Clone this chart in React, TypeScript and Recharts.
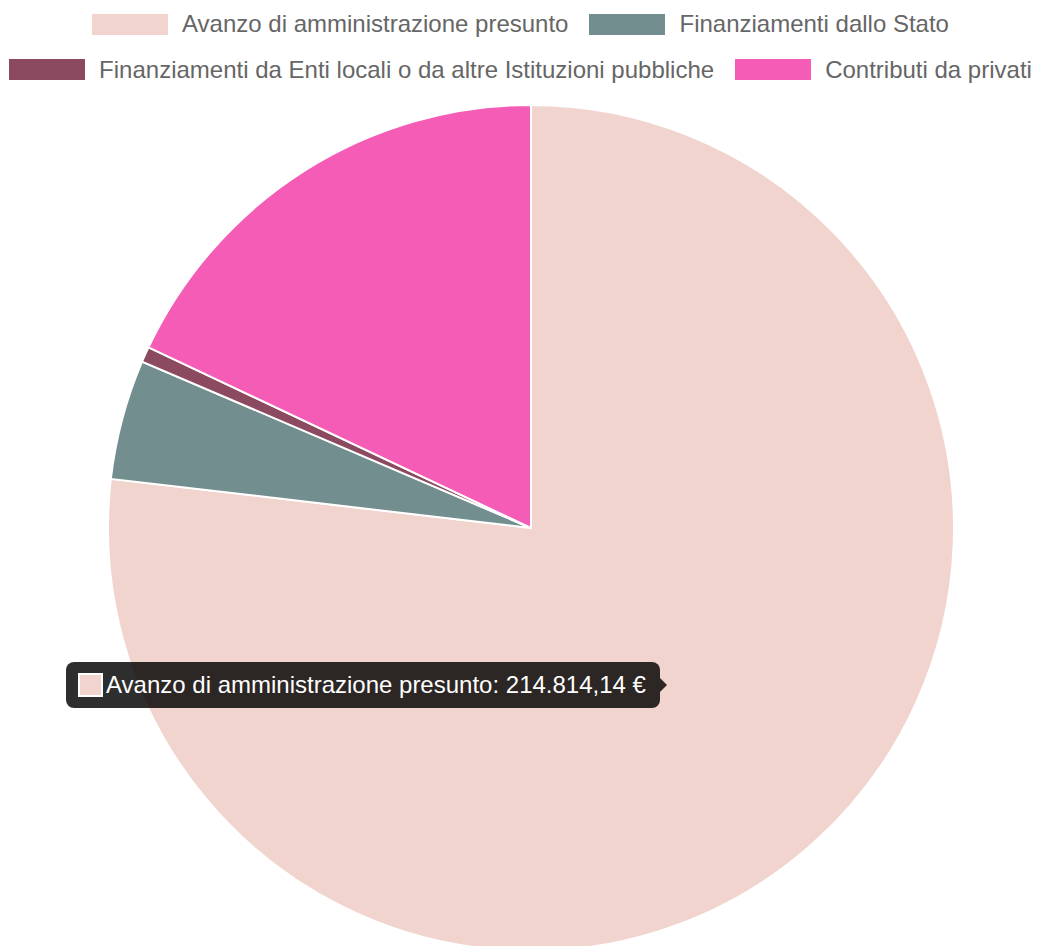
import React from "react";
import { PieChart, Pie, Cell, Legend, Tooltip } from "recharts";

const categories = [
  "Avanzo di amministrazione presunto",
  "Finanziamenti dallo Stato",
  "Finanziamenti da Enti locali o da altre Istituzioni pubbliche",
  "Contributi da privati",
];
const values = [214814.14, 12800, 1650, 50250];
const colors = ["#f1d4cd", "#738e8e", "#8c4a60", "#f45cb6"];

const data = categories.map((name, i) => ({ name, value: values[i] }));

const FONT = "'Liberation Sans', Arial, sans-serif";

const fmt = (v: number) =>
  v.toLocaleString("it-IT", { minimumFractionDigits: 2, maximumFractionDigits: 2 }) + " €";

const LegendItem = ({ i }: { i: number }) => (
  <div style={{ display: "flex", alignItems: "center", margin: "0 10px" }}>
    <div style={{ width: 78, height: 23, background: colors[i], border: "1px solid #fff", boxSizing: "border-box" }} />
    <span style={{ marginLeft: 13, color: "#666", fontSize: 24, fontFamily: FONT, whiteSpace: "nowrap" }}>
      {categories[i]}
    </span>
  </div>
);

const renderLegend = () => (
  <div style={{ width: 1040 }}>
    <div style={{ display: "flex", justifyContent: "center", height: 46, marginTop: 1, alignItems: "center" }}>
      <LegendItem i={0} />
      <LegendItem i={1} />
    </div>
    <div style={{ display: "flex", justifyContent: "center", height: 45, alignItems: "center" }}>
      <LegendItem i={2} />
      <LegendItem i={3} />
    </div>
  </div>
);

const renderTooltip = (props: any) => {
  const { active, payload } = props;
  if (!active || !payload || !payload.length) return null;
  const p = payload[0];
  const idx = categories.indexOf(p.name);
  return (
    <div style={{ position: "relative" }}>
      <div
        style={{
          background: "rgba(0,0,0,0.82)",
          borderRadius: 8,
          padding: "0 14px 0 12px",
          height: 46,
          display: "flex",
          alignItems: "center",
          fontFamily: FONT,
          fontSize: 24,
          color: "#fff",
          whiteSpace: "nowrap",
        }}
      >
        <div
          style={{
            width: 25,
            height: 24,
            background: colors[idx],
            border: "2px solid #fff",
            boxSizing: "border-box",
            marginRight: 3,
          }}
        />
        {p.name}: {fmt(p.value)}
      </div>
      <div
        style={{
          position: "absolute",
          right: -7,
          top: 16,
          width: 0,
          height: 0,
          borderTop: "7px solid transparent",
          borderBottom: "7px solid transparent",
          borderLeft: "7px solid rgba(0,0,0,0.82)",
        }}
      />
    </div>
  );
};

export default function App() {
  return (
    <div style={{ position: "absolute", left: 0, top: 0, width: 1040, height: 946, background: "#fff" }}>
      <PieChart width={1040} height={946} margin={{ top: 0, right: 0, bottom: 0, left: 0 }}>
        <Pie
          data={data}
          dataKey="value"
          nameKey="name"
          cx={531}
          cy={528}
          outerRadius={423}
          startAngle={90}
          endAngle={-270}
          stroke="#ffffff"
          strokeWidth={2}
          isAnimationActive={false}
        >
          {data.map((d, i) => (
            <Cell key={d.name} fill={colors[i]} />
          ))}
        </Pie>
        <Legend
          verticalAlign="middle"
          align="center"
          layout="horizontal"
          content={renderLegend}
          wrapperStyle={{ top: 0, left: 0, width: 1040 }}
        />
        <Tooltip
          defaultIndex={0}
          active
          content={renderTooltip}
          position={{ x: 66, y: 662 }}
          isAnimationActive={false}
          wrapperStyle={{ outline: "none" }}
        />
      </PieChart>
    </div>
  );
}
